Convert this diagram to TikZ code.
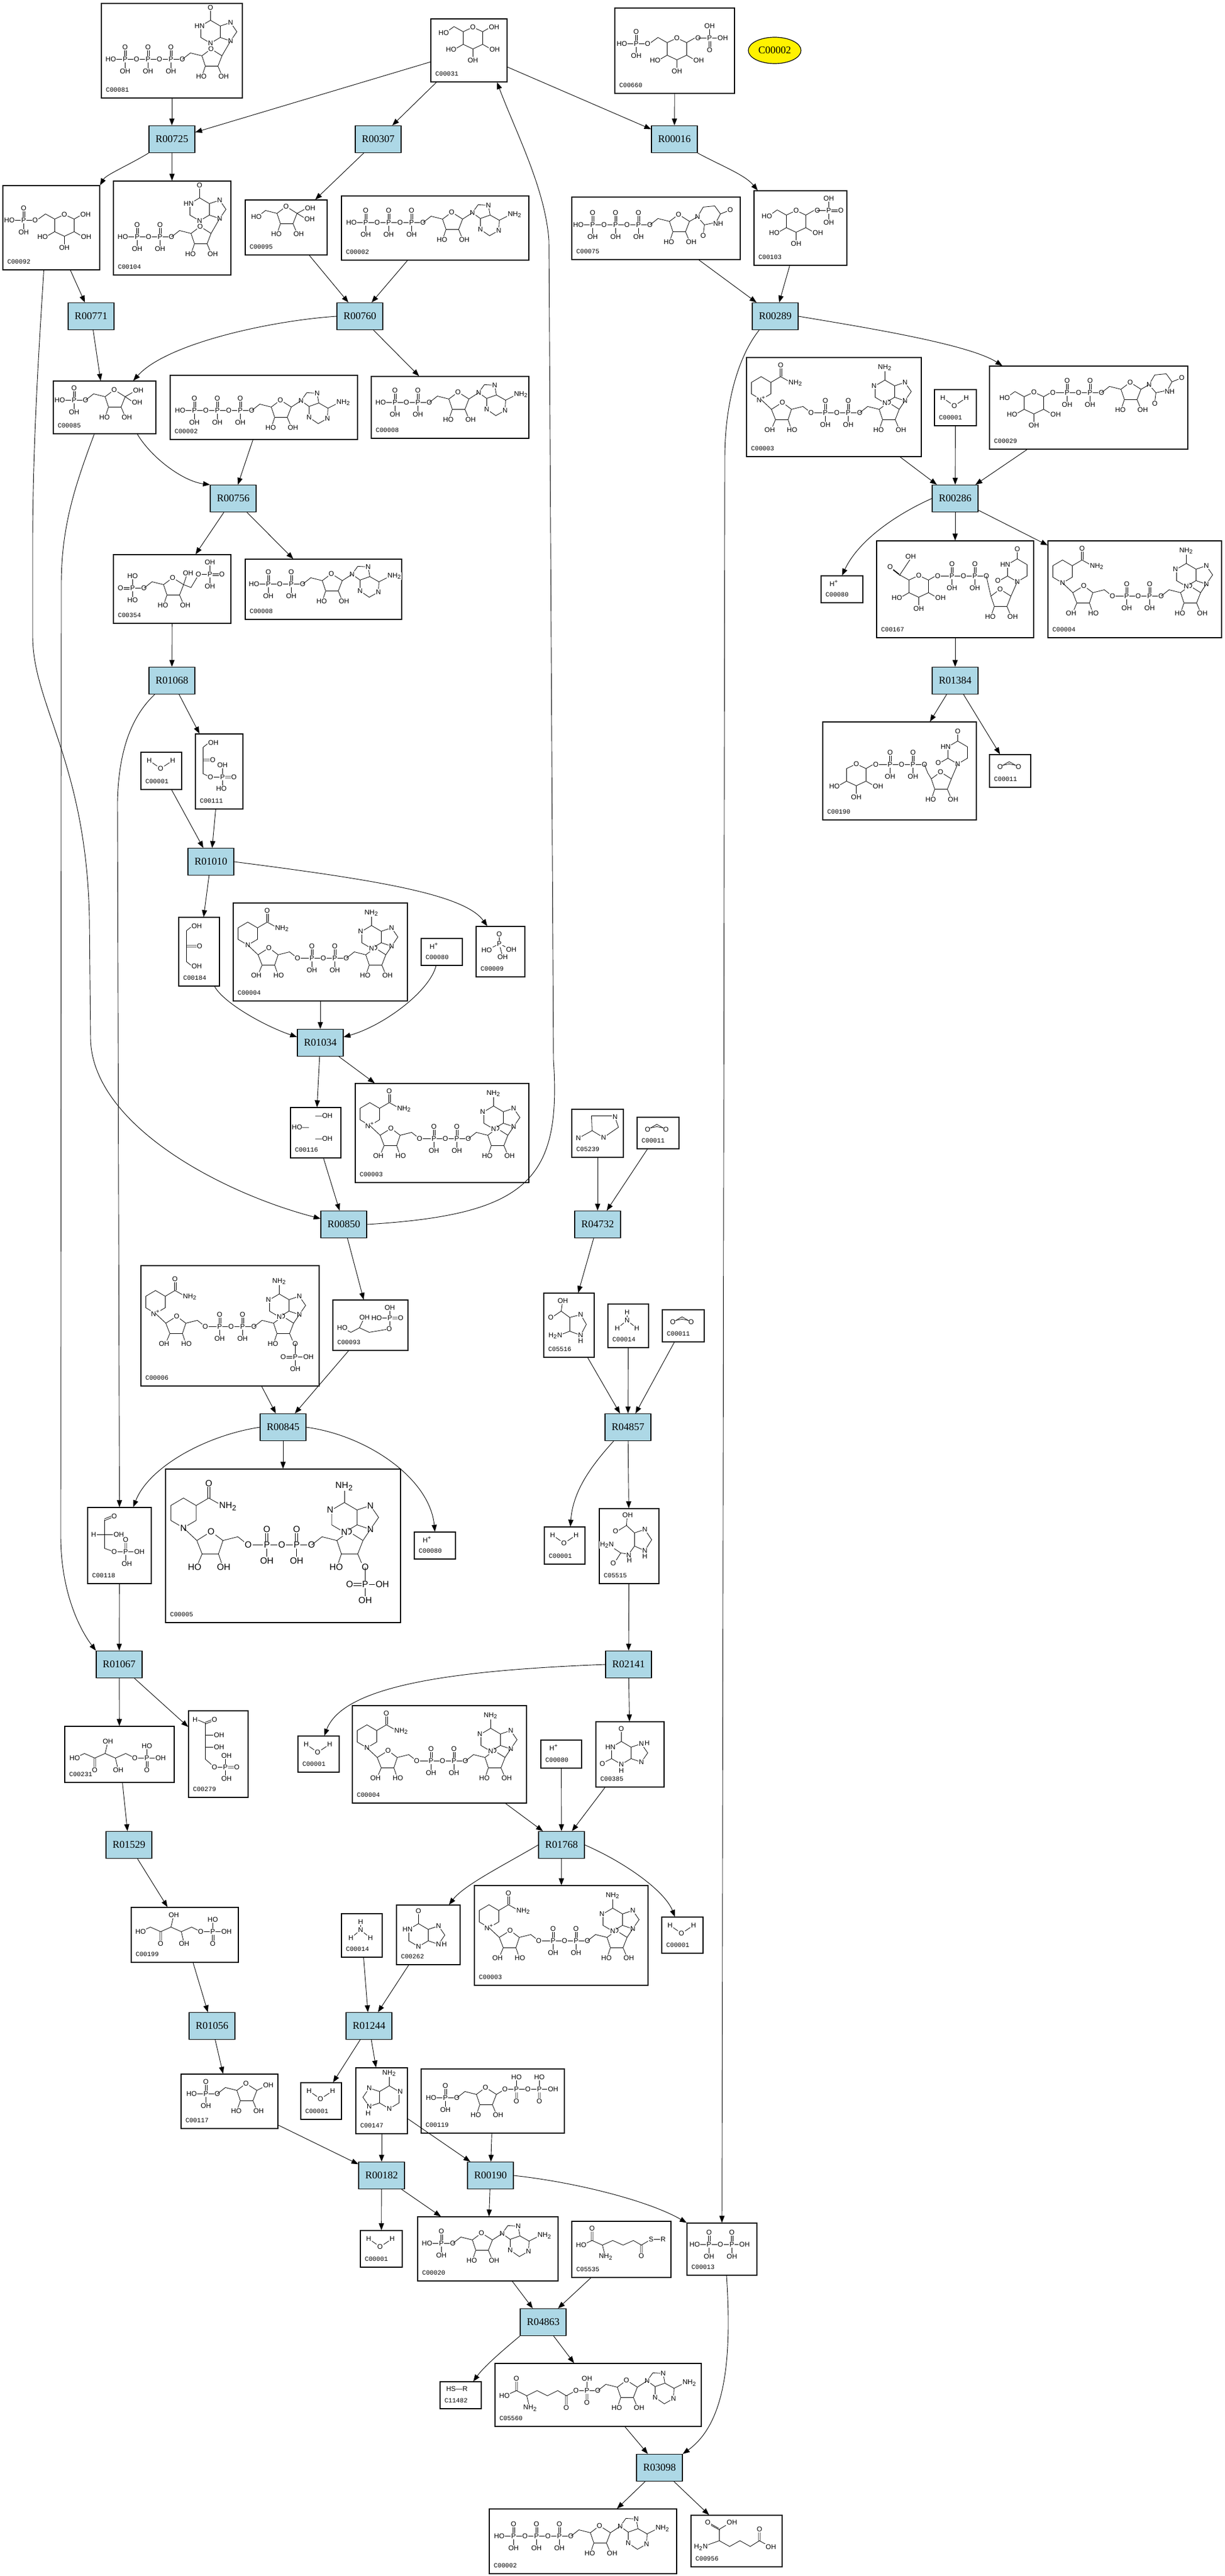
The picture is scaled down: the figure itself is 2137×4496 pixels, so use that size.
\documentclass[tikz,border=0pt]{standalone}
\usepackage{fontspec}
\newfontfamily\rxnfont{Liberation Serif}
\newfontfamily\cpdfont{Liberation Mono}
\newfontfamily\atomfont{Liberation Sans}
\usetikzlibrary{arrows.meta, calc, positioning, shapes.geometric}
\definecolor{rxnblue}{RGB}{173,216,230}

\tikzset{
  rxn/.style={draw, fill=rxnblue, line width=0.6pt, minimum width=40pt, minimum height=23.5pt, inner sep=0pt, font=\rxnfont\fontsize{9}{9}\selectfont},
  cpdbox/.style={draw, line width=0.6pt, inner sep=0pt},
  cpdlabel/.style={inner sep=0pt, font=\cpdfont\fontsize{5.6}{6}\selectfont},
  atom/.style={fill=white, inner sep=0.5pt, font=\atomfont\fontsize{6}{6}\selectfont},
  bond/.style={line width=0.4pt},
  edge/.style={line width=0.45pt, -{Triangle[length=6pt,width=4.5pt]}},
}

\newcounter{atm}
\newcommand{\ifnonempty}[2]{\if\relax\detokenize{#1}\relax\else#2\fi}
\newcommand{\atm}[2]{\stepcounter{atm}\node[atom] (atm-\theatm) at (#1) {#2};}
\newcommand{\cpd}[6]{%
  \node[cpdbox, minimum width={(#4-#2)*0.5pt}, minimum height={(#5-#3)*0.5pt}] (#1) at ({(#2+#4)/2},{(#3+#5)/2}) {};
  \node[cpdlabel, anchor=base west] (#1-id) at ([shift={(8,-11)}]#1.south west) {#6};}
\newcommand{\water}[1]{%
  \node[atom] (#1-h1) at ([shift={(15,15)}]#1.north west) {H};
  \node[atom] (#1-o) at ([shift={(35,29)}]#1.north west) {O};
  \node[atom] (#1-h2) at ([shift={(56,15)}]#1.north west) {H};
  \draw[bond] (#1-h1) -- (#1-o) -- (#1-h2);}
\newcommand{\proton}[1]{%
  \node[atom, anchor=west] (#1-h) at ([shift={(14,14)}]#1.north west) {H\textsuperscript{+}};}
\newcommand{\carbdiox}[1]{%
  \node[atom] (#1-o1) at ([shift={(19,22)}]#1.north west) {O};
  \node[atom] (#1-o2) at ([shift={(51,22)}]#1.north west) {O};
  \coordinate (#1-c) at ([shift={(35,13)}]#1.north west);
  \draw[bond] (#1-o1) -- (#1-c) -- (#1-o2);
  \draw[bond] ([shift={(4,3)}]#1-o1.north) -- ([shift={(0,4)}]#1-c) -- ([shift={(-4,3)}]#1-o2.north);}
\newcommand{\ammonia}[1]{%
  \node[atom] (#1-h1) at ([shift={(34,15)}]#1.north west) {H};
  \node[atom] (#1-n) at ([shift={(34,29)}]#1.north west) {N};
  \node[atom] (#1-h2) at ([shift={(17,43)}]#1.north west) {H};
  \node[atom] (#1-h3) at ([shift={(51,43)}]#1.north west) {H};
  \draw[bond] (#1-h1) -- (#1-n) (#1-h2) -- (#1-n) -- (#1-h3);}

\newcommand{\pchain}[4]{%
  \draw[bond] ({#1},{#2}) -- ({#1+45+40*(#3-1)},{#2});
  \foreach \i in {1,...,#3}{
    \draw[bond] ({#1+25+40*(\i-1)},{#2}) -- ({#1+25+40*(\i-1)},{#2+20});
    \draw[bond] ({#1+23.5+40*(\i-1)},{#2}) -- ({#1+23.5+40*(\i-1)},{#2-20});
    \draw[bond] ({#1+26.5+40*(\i-1)},{#2}) -- ({#1+26.5+40*(\i-1)},{#2-20});}
  \atm{{#1},{#2}}{#4}
  \foreach \i in {1,...,#3}{
    \atm{{#1+25+40*(\i-1)},{#2}}{P}
    \atm{{#1+45+40*(\i-1)},{#2}}{O}
    \atm{{#1+25+40*(\i-1)},{#2-21}}{O}
    \atm{{#1+25+40*(\i-1)},{#2+21}}{OH}}}
\newcommand{\rlink}[3]{%
  \draw[bond] ({#1},{#2}) -- ({#1-20},{#2-5}) -- ({#1-34},{#2+6});
  \ifnonempty{#3}{\atm{{#1-36},{#2+6}}{#3}}}
\newcommand{\ribose}[3]{%
  \draw[bond] ({#1},{#2}) -- ({#1+16},{#2-12}) -- ({#1+35},{#2}) -- ({#1+28},{#2+18}) -- ({#1+6},{#2+18}) -- cycle;
  \draw[bond] ({#1+6},{#2+18}) -- ({#1+2},{#2+30}) ({#1+28},{#2+18}) -- ({#1+33},{#2+30});
  \atm{{#1+16},{#2-12}}{O} \atm{{#1-1},{#2+36}}{HO} \atm{{#1+38},{#2+36}}{#3}}
\newcommand{\adenine}[2]{%
  \draw[bond] ({#1},{#2}) -- ({#1+10},{#2-14}) -- ({#1+28},{#2-13}) -- ({#1+31},{#2+4}) -- ({#1+14},{#2+10}) -- cycle;
  \draw[bond] ({#1+31},{#2+4}) -- ({#1+47},{#2+13}) -- ({#1+46},{#2+31}) -- ({#1+30},{#2+40}) -- ({#1+14},{#2+29}) -- ({#1+14},{#2+10});
  \draw[bond] ({#1+47},{#2+13}) -- ({#1+63},{#2+5});
  \atm{{#1},{#2}}{N} \atm{{#1+28},{#2-13}}{N} \atm{{#1+46},{#2+31}}{N} \atm{{#1+14},{#2+29}}{N}
  \atm{{#1+74},{#2+3}}{NH\textsubscript{2}}}
\newcommand{\purineup}[4]{%
  \draw[bond] ({#1},{#2}) -- ({#1},{#2-20}) -- ({#1-17},{#2-30}) -- ({#1-34},{#2-20}) -- ({#1-34},{#2}) -- ({#1-17},{#2+10}) -- cycle;
  \draw[bond] ({#1},{#2}) -- ({#1+18},{#2+6}) -- ({#1+29},{#2-10}) -- ({#1+18},{#2-26}) -- ({#1},{#2-20});
  \draw[bond] ({#1-17},{#2-30}) -- ({#1-17},{#2-46});
  \atm{{#1-17},{#2+10}}{N} \atm{{#1+18},{#2+6}}{N} \atm{{#1+18},{#2-26}}{N}
  \atm{{#1-36},{#2-20}}{#4} \atm{{#1-17},{#2-52}}{#3}}
\newcommand{\hexose}[5]{%
  \draw[bond] ({#1},{#2}) -- ({#1+17},{#2-8}) -- ({#1+34},{#2}) -- ({#1+34},{#2+22}) -- ({#1+17},{#2+30}) -- ({#1},{#2+22}) -- cycle;
  \draw[bond] ({#1+34},{#2}) -- ({#1+48},{#2-8}) ({#1+34},{#2+22}) -- ({#1+48},{#2+30}) ({#1+17},{#2+30}) -- ({#1+17},{#2+44}) ({#1},{#2+22}) -- ({#1-14},{#2+30});
  \ifnum#5>0 \draw[bond] ({#1},{#2}) -- ({#1-16},{#2-9}); \fi
  \ifnum#5>1 \draw[bond] ({#1-16},{#2-9}) -- ({#1-30},{#2+1}); \fi
  \atm{{#1+17},{#2-8}}{O}
  \atm{{#1+55},{#2+31}}{OH} \atm{{#1+17},{#2+50}}{OH} \atm{{#1-21},{#2+31}}{HO}
  \ifnonempty{#3}{\atm{{#1+54},{#2-8}}{#3}}
  \ifnonempty{#4}{\atm{{#1-34},{#2+2}}{#4}}}
\newcommand{\uracil}[2]{%
  \draw[bond] ({#1},{#2}) -- ({#1+10},{#2-17}) -- ({#1+30},{#2-19}) -- ({#1+40},{#2-5}) -- ({#1+32},{#2+10}) -- ({#1+12},{#2+14}) -- cycle;
  \draw[bond] ({#1+40},{#2-5}) -- ({#1+55},{#2-11}) ({#1+12},{#2+14}) -- ({#1+10},{#2+30});
  \atm{{#1},{#2}}{N} \atm{{#1+36},{#2+12}}{NH} \atm{{#1+57},{#2-12}}{O} \atm{{#1+10},{#2+33}}{O}}
\newcommand{\uracilup}[2]{%
  \draw[bond] ({#1},{#2}) -- ({#1-17},{#2-10}) -- ({#1-17},{#2-30}) -- ({#1},{#2-40}) -- ({#1+17},{#2-30}) -- ({#1+17},{#2-10}) -- cycle;
  \draw[bond] ({#1},{#2-40}) -- ({#1},{#2-54}) ({#1-17},{#2-10}) -- ({#1-31},{#2-2});
  \atm{{#1},{#2}}{N} \atm{{#1-21},{#2-30}}{HN} \atm{{#1},{#2-57}}{O} \atm{{#1-34},{#2-2}}{O}}
\newcommand{\nicring}[3]{%
  \draw[bond] ({#1},{#2}) -- ({#1+17},{#2-10}) -- ({#1+17},{#2-30}) -- ({#1},{#2-40}) -- ({#1-17},{#2-30}) -- ({#1-17},{#2-10}) -- cycle;
  \draw[bond] ({#1+17},{#2-30}) -- ({#1+34},{#2-40}) -- ({#1+52},{#2-30});
  \draw[bond] ({#1+32.5},{#2-40}) -- ({#1+32.5},{#2-56}) ({#1+35.5},{#2-40}) -- ({#1+35.5},{#2-56});
  \atm{{#1},{#2}}{#3} \atm{{#1+34},{#2-60}}{O} \atm{{#1+60},{#2-29}}{NH\textsubscript{2}}}
\newcommand{\ntp}[3]{%
  \pchain{#1}{#2}{#3}{HO}
  \pgfmathsetmacro\ribx{#1+79+40*(#3-1)}\pgfmathsetmacro\riby{#2-6}
  \rlink{\ribx}{\riby}{} \ribose{\ribx}{\riby}{OH}
  \adenine{\ribx+52}{\riby-11}
  \draw[bond] ({\ribx+35},{\riby}) -- ({\ribx+52},{\riby-11});}
\newcommand{\ntpi}[3]{%
  \pchain{#1}{#2}{#3}{HO}
  \pgfmathsetmacro\ribx{#1+79+40*(#3-1)}\pgfmathsetmacro\riby{#2-6}
  \rlink{\ribx}{\riby}{} \ribose{\ribx}{\riby}{OH}
  \purineup{\ribx+32}{\riby-32}{O}{HN}
  \draw[bond] ({\ribx+35},{\riby}) -- ({\ribx+50},{\riby-26});}
\newcommand{\ntpu}[3]{%
  \pchain{#1}{#2}{#3}{HO}
  \pgfmathsetmacro\ribx{#1+79+40*(#3-1)}\pgfmathsetmacro\riby{#2-6}
  \rlink{\ribx}{\riby}{} \ribose{\ribx}{\riby}{OH}
  \uracil{\ribx+49}{\riby-8}
  \draw[bond] ({\ribx+35},{\riby}) -- ({\ribx+49},{\riby-8});}
\newcommand{\nad}[2]{%
  \nicring{26}{74}{#1}
  \begin{scope}[shift={(79,91)}, xscale=-1] \rlink{0}{0}{} \ribose{0}{0}{OH} \end{scope}
  \draw[bond] (44,91) -- (26,74);
  \pchain{113}{97}{2}{O}
  \rlink{232}{91}{} \ribose{232}{91}{#2}
  \purineup{259}{70}{NH\textsubscript{2}}{N}
  \draw[bond] (267,91) -- (277,76);}
\newcommand{\nadp}[1]{%
  \nad{#1}{O}
  \draw[bond] (270,127) -- (270,170) (270,150) -- (292,150) (250,148.5) -- (270,148.5) (250,151.5) -- (270,151.5);
  \atm{270,150}{P} \atm{249,150}{O} \atm{293,150}{OH} \atm{270,171}{OH}}
\newcommand{\ketopentp}[2]{%
  \draw[bond] ({#1},{#2}) -- ({#1+17},{#2-8}) -- ({#1+35},{#2}) -- ({#1+53},{#2-8}) -- ({#1+71},{#2}) -- ({#1+89},{#2-8}) -- ({#1+105},{#2}) -- ({#1+150},{#2});
  \draw[bond] ({#1+33.5},{#2}) -- ({#1+33.5},{#2+18}) ({#1+36.5},{#2}) -- ({#1+36.5},{#2+18}) ({#1+53},{#2-8}) -- ({#1+57},{#2-25}) ({#1+71},{#2}) -- ({#1+75},{#2+17});
  \draw[bond] ({#1+126},{#2}) -- ({#1+126},{#2-18}) ({#1+124.5},{#2}) -- ({#1+124.5},{#2+18}) ({#1+127.5},{#2}) -- ({#1+127.5},{#2+18});
  \atm{{#1},{#2}}{HO} \atm{{#1+35},{#2+21}}{O} \atm{{#1+58},{#2-29}}{OH} \atm{{#1+76},{#2+21}}{OH}
  \atm{{#1+105},{#2}}{O} \atm{{#1+126},{#2}}{P} \atm{{#1+150},{#2}}{OH} \atm{{#1+126},{#2-21}}{HO} \atm{{#1+126},{#2+21}}{O}}

\begin{document}
\begin{tikzpicture}[x=0.5pt, y=-0.5pt]
\useasboundingbox (0,0) rectangle (2137,4496);
\fill[white] (0,0) rectangle (2137,4496);

\cpd{c81}{177}{6}{423}{171}{C00081}
\cpd{c31}{752}{33}{885}{143}{C00031}
\cpd{c660}{1073}{14}{1282}{163}{C00660}
\node[ellipse, draw, fill=yellow, line width=0.6pt, minimum width=46pt, minimum height=23pt, inner sep=0pt, font=\rxnfont\fontsize{9}{9}\selectfont] (c2top) at (1352,88) {C00002};

\cpd{c92}{5}{324}{174}{471}{C00092}
\cpd{c104}{198}{316}{403}{480}{C00104}
\cpd{c95}{428}{349}{571}{445}{C00095}
\cpd{c2a}{596}{342}{923}{454}{C00002}
\cpd{c75}{998}{344}{1292}{453}{C00075}
\cpd{c103}{1316}{333}{1478}{463}{C00103}

\cpd{c85}{93}{665}{272}{757}{C00085}
\cpd{c2b}{297}{655}{624}{767}{C00002}
\cpd{c8a}{648}{657}{923}{765}{C00008}
\cpd{c3a}{1303}{624}{1608}{797}{C00003}
\cpd{c1a}{1631}{680}{1704}{743}{C00001}
\cpd{c29}{1727}{639}{2073}{784}{C00029}

\cpd{c354}{198}{968}{403}{1088}{C00354}
\cpd{c8b}{428}{976}{701}{1081}{C00008}
\cpd{c80b}{1433}{1005}{1506}{1052}{C00080}
\cpd{c167}{1530}{944}{1804}{1113}{C00167}
\cpd{c4b}{1829}{944}{2132}{1113}{C00004}

\cpd{c1b}{246}{1313}{317}{1378}{C00001}
\cpd{c111}{341}{1281}{424}{1412}{C00111}
\cpd{c190}{1436}{1260}{1704}{1431}{C00190}
\cpd{c11a}{1727}{1317}{1799}{1374}{C00011}

\cpd{c184}{312}{1601}{383}{1721}{C00184}
\cpd{c4a}{407}{1576}{711}{1747}{C00004}
\cpd{c80a}{735}{1638}{807}{1685}{C00080}
\cpd{c9}{831}{1617}{916}{1705}{C00009}

\cpd{c116}{507}{1933}{595}{2021}{C00116}
\cpd{c3b}{620}{1891}{923}{2064}{C00003}
\cpd{c5239}{998}{1936}{1088}{2020}{C05239}
\cpd{c11b}{1112}{1950}{1185}{2005}{C00011}

\cpd{c6}{246}{2209}{557}{2419}{C00006}
\cpd{c93}{581}{2269}{712}{2357}{C00093}
\cpd{c5516}{949}{2257}{1037}{2369}{C05516}
\cpd{c14a}{1061}{2276}{1132}{2352}{C00014}
\cpd{c11c}{1156}{2286}{1229}{2342}{C00011}

\cpd{c118}{153}{2631}{264}{2764}{C00118}
\cpd{c5}{289}{2564}{699}{2832}{C00005}
\cpd{c80c}{723}{2674}{795}{2721}{C00080}
\cpd{c1c}{950}{2665}{1021}{2730}{C00001}
\cpd{c5515}{1046}{2633}{1150}{2764}{C05515}

\cpd{c231}{113}{3013}{304}{3111}{C00231}
\cpd{c279}{329}{2986}{433}{3137}{C00279}
\cpd{c1d}{520}{3030}{592}{3093}{C00001}
\cpd{c4c}{615}{2977}{919}{3147}{C00004}
\cpd{c80d}{944}{3037}{1015}{3086}{C00080}
\cpd{c385}{1040}{3005}{1159}{3119}{C00385}

\cpd{c199}{229}{3329}{416}{3425}{C00199}
\cpd{c14b}{596}{3340}{667}{3416}{C00014}
\cpd{c262}{692}{3325}{803}{3429}{C00262}
\cpd{c3c}{828}{3291}{1131}{3465}{C00003}
\cpd{c1e}{1155}{3346}{1227}{3409}{C00001}

\cpd{c117}{316}{3620}{485}{3715}{C00117}
\cpd{c1f}{525}{3635}{596}{3699}{C00001}
\cpd{c147}{621}{3609}{711}{3724}{C00147}
\cpd{c119}{735}{3611}{985}{3723}{C00119}

\cpd{c1g}{629}{3893}{702}{3957}{C00001}
\cpd{c20}{729}{3869}{974}{3981}{C00020}
\cpd{c5535}{998}{3877}{1171}{3975}{C05535}
\cpd{c13b}{1199}{3880}{1321}{3971}{C00013}

\cpd{c11482}{768}{4157}{840}{4204}{C11482}
\cpd{c5560}{864}{4125}{1224}{4235}{C05560}
\cpd{c2c}{854}{4379}{1181}{4492}{C00002}
\cpd{c956}{1206}{4390}{1365}{4480}{C00956}

\water{c1a} \water{c1b} \water{c1c} \water{c1d} \water{c1e} \water{c1f} \water{c1g}
\proton{c80a} \proton{c80b} \proton{c80c} \proton{c80d}
\carbdiox{c11a} \carbdiox{c11b} \carbdiox{c11c}
\ammonia{c14a} \ammonia{c14b}
\node[atom, anchor=west] (c11482-t) at ([shift={(10,13)}]c11482.north west) {HS—R};
\node[atom] (c116-t1) at ([shift={(59,15)}]c116.north west) {—OH};
\node[atom] (c116-t2) at ([shift={(18,35)}]c116.north west) {HO—};
\node[atom] (c116-t3) at ([shift={(59,55)}]c116.north west) {—OH};
\node[atom] (c9-o) at ([shift={(41,14)}]c9.north west) {O};
\node[atom] (c9-p) at ([shift={(41,31)}]c9.north west) {P};
\node[atom] (c9-ho) at ([shift={(19,42)}]c9.north west) {HO};
\node[atom] (c9-oh1) at ([shift={(62,41)}]c9.north west) {OH};
\node[atom] (c9-oh2) at ([shift={(47,54)}]c9.north west) {OH};
\draw[bond] (c9-o) -- (c9-p) (c9-ho) -- (c9-p) -- (c9-oh1) (c9-p) -- (c9-oh2);

\begin{scope}[shift={(c81.north west)}] \ntpi{17}{98}{3} \end{scope}
\begin{scope}[shift={(c31.north west)}] \hexose{57}{23}{OH}{HO}{2} \end{scope}
\begin{scope}[shift={(c660.north west)}]
  \hexose{92}{61}{O}{O}{2} \pchain{13}{63}{1}{HO}
  \draw[bond] (146,53) -- (188,53) (166,53) -- (166,33) (164.5,53) -- (164.5,73) (167.5,53) -- (167.5,73);
  \atm{166,53}{P} \atm{189,53}{OH} \atm{166,32}{OH} \atm{166,74}{O}
\end{scope}
\begin{scope}[shift={(c92.north west)}] \hexose{91}{59}{OH}{O}{2} \pchain{12}{61}{1}{HO} \end{scope}
\begin{scope}[shift={(c104.north west)}] \ntpi{17}{98}{2} \end{scope}
\begin{scope}[shift={(c95.north west)}]
  \rlink{56}{24}{HO} \ribose{56}{24}{OH}
  \draw[bond] (91,24) -- (106,16) (91,24) -- (104,32);
  \atm{114,15}{OH} \atm{113,34}{OH}
\end{scope}
\begin{scope}[shift={(c2a.north west)}] \ntp{18}{47}{3} \end{scope}
\begin{scope}[shift={(c75.north west)}] \ntpu{12}{49}{3} \end{scope}
\begin{scope}[shift={(c103.north west)}]
  \hexose{57}{43}{O}{HO}{2}
  \draw[bond] (111,35) -- (131,35) (131,15) -- (131,55) (131,33.5) -- (151,33.5) (131,36.5) -- (151,36.5);
  \atm{131,35}{P} \atm{152,35}{O} \atm{131,14}{OH} \atm{131,56}{OH}
\end{scope}
\begin{scope}[shift={(c85.north west)}]
  \pchain{12}{34}{1}{HO} \rlink{91}{28}{} \ribose{91}{28}{OH}
  \draw[bond] (126,28) -- (140,20) (126,28) -- (138,36);
  \atm{149,17}{OH} \atm{147,38}{OH}
\end{scope}
\begin{scope}[shift={(c2b.north west)}] \ntp{18}{62}{3} \end{scope}
\begin{scope}[shift={(c8a.north west)}] \ntp{17}{46}{2} \end{scope}
\begin{scope}[shift={(c3a.north west)}] \nad{N\textsuperscript{+}}{OH} \end{scope}
\begin{scope}[shift={(c29.north west)}]
  \hexose{61}{54}{}{HO}{2} \pchain{111}{47}{2}{O}
  \rlink{230}{41}{} \ribose{230}{41}{OH} \uracil{279}{33}
  \draw[bond] (265,41) -- (279,33);
\end{scope}
\begin{scope}[shift={(c354.north west)}]
  \draw[bond] (14,57.5) -- (34,57.5) (14,60.5) -- (34,60.5) (34,59) -- (54,59) (34,39) -- (34,79);
  \atm{34,59}{P} \atm{13,59}{O} \atm{54,59}{O} \atm{34,38}{HO} \atm{34,80}{HO}
  \rlink{88}{53}{} \ribose{88}{53}{OH}
  \draw[bond] (123,53) -- (128,38) (123,53) -- (136,58) -- (149,36);
  \draw[bond] (149,35) -- (169,35) (169,15) -- (169,55) (169,33.5) -- (189,33.5) (169,36.5) -- (189,36.5);
  \atm{131,33}{OH} \atm{149,35}{O} \atm{169,35}{P} \atm{190,35}{O} \atm{169,14}{OH} \atm{169,56}{OH}
\end{scope}
\begin{scope}[shift={(c8b.north west)}] \ntp{16}{44}{2} \end{scope}
\begin{scope}[shift={(c167.north west)}]
  \hexose{57}{69}{}{}{1}
  \draw[bond] (41,60) -- (59,33) (40,58.5) -- (26,47.5) (42,61.5) -- (28,50.5);
  \atm{60,28}{OH} \atm{24,46}{O}
  \pchain{107}{62}{2}{O}
  \draw[bond] (192,62) -- (196,80) -- (200,97);
  \ribose{200}{97}{OH} \uracilup{246}{72}
  \draw[bond] (235,97) -- (246,72);
\end{scope}
\begin{scope}[shift={(c4b.north west)}] \nad{N}{OH} \end{scope}
\begin{scope}[shift={(c111.north west)}]
  \draw[bond] (24,16) -- (14,24) -- (14,70) -- (27,76) -- (48,76) (48,55) -- (48,95) (48,74.5) -- (67,74.5) (48,77.5) -- (67,77.5) (14,44.5) -- (28,44.5) (14,47.5) -- (28,47.5);
  \atm{32,16}{OH} \atm{31,46}{O} \atm{27,76}{O} \atm{48,76}{P} \atm{68,76}{O} \atm{48,55}{OH} \atm{46,96}{HO}
\end{scope}
\begin{scope}[shift={(c190.north west)}]
  \hexose{42}{82}{}{}{0} \pchain{93}{75}{2}{O}
  \draw[bond] (178,75) -- (184,90) -- (190,100);
  \ribose{190}{100}{OH} \uracilup{236}{74}
  \draw[bond] (225,100) -- (236,74);
\end{scope}
\begin{scope}[shift={(c184.north west)}]
  \draw[bond] (24,16) -- (14,24) -- (14,78) -- (24,86) (14,49.5) -- (32,49.5) (14,52.5) -- (32,52.5);
  \atm{32,16}{OH} \atm{37,51}{O} \atm{32,86}{OH}
\end{scope}
\begin{scope}[shift={(c4a.north west)}] \nad{N}{OH} \end{scope}
\begin{scope}[shift={(c3b.north west)}] \nad{N\textsuperscript{+}}{OH} \end{scope}
\begin{scope}[shift={(c5239.north west)}]
  \draw[bond] (35,12) -- (75,12) -- (82,32) -- (56,50) -- (36,38) -- cycle (36,38) -- (14,50);
  \atm{76,14}{N} \atm{56,50}{N} \atm{12,51}{N}
\end{scope}
\begin{scope}[shift={(c6.north west)}] \begin{scope}[shift={(0,10)}] \nadp{N\textsuperscript{+}} \end{scope} \end{scope}
\begin{scope}[shift={(c93.north west)}]
  \draw[bond] (17,49) -- (32,57) -- (47,49) -- (64,57) -- (99,51) (47,49) -- (55,32) (100,51) -- (100,14) (77,32) -- (100,32) (100,30.5) -- (118,30.5) (100,33.5) -- (118,33.5);
  \atm{17,49}{HO} \atm{56,31}{OH} \atm{99,51}{O} \atm{100,32}{P} \atm{77,32}{HO} \atm{119,32}{O} \atm{100,14}{OH}
\end{scope}
\begin{scope}[shift={(c5516.north west)}]
  \draw[bond] (46,43) -- (65,38) -- (75,55) -- (65,74) -- (46,67) -- cycle (46,43) -- (31,32) -- (33,18) (31,32) -- (16,42) (46,67) -- (28,74);
  \atm{34,14}{OH} \atm{13,43}{O} \atm{65,38}{N} \atm{65,74}{N} \atm{65,84}{H} \atm{21,75}{H\textsubscript{2}N}
\end{scope}
\begin{scope}[shift={(c118.north west)}]
  \draw[bond] (30,22) -- (30,72) -- (47,78) -- (91,78) (67,78) -- (67,98) (65.5,78) -- (65.5,58) (68.5,78) -- (68.5,58) (14,48) -- (50,48) (30,20.5) -- (45,14.5) (30,23.5) -- (45,17.5);
  \atm{47,16}{O} \atm{11,48}{H} \atm{55,48}{OH} \atm{47,78}{O} \atm{67,78}{P} \atm{91,78}{OH} \atm{67,57}{O} \atm{69,99}{OH}
\end{scope}
\begin{scope}[shift={(c5.north west)}] \begin{scope}[shift={(-2,7)}, scale=1.3, transform shape] \nadp{N} \end{scope} \end{scope}
\begin{scope}[shift={(c5515.north west)}]
  \draw[bond] (62,43) -- (80,37) -- (92,55) -- (80,74) -- (62,66) -- cycle (62,43) -- (48,30) -- (49,16) (48,30) -- (32,40) (62,66) -- (52,80) -- (38,78) -- (20,66) (38,78) -- (28,94);
  \atm{50,12}{OH} \atm{29,40}{O} \atm{80,37}{N} \atm{80,74}{N} \atm{80,84}{H} \atm{52,82}{N} \atm{53,91}{H} \atm{14,64}{H\textsubscript{2}N} \atm{25,96}{O}
\end{scope}
\begin{scope}[shift={(c231.north west)}] \ketopentp{18}{56} \end{scope}
\begin{scope}[shift={(c279.north west)}]
  \draw[bond] (16,16) -- (30,22) -- (30,85) -- (46,99) -- (65,99) (30,20.5) -- (45,14.5) (30,23.5) -- (45,17.5) (30,43) -- (46,43) (30,64) -- (46,64) (65,79) -- (65,119) (65,97.5) -- (84,97.5) (65,100.5) -- (84,100.5);
  \atm{12,16}{H} \atm{46,16}{O} \atm{54,43}{OH} \atm{54,64}{OH} \atm{46,99}{O} \atm{65,99}{P} \atm{85,99}{O} \atm{67,79}{OH} \atm{67,119}{OH}
\end{scope}
\begin{scope}[shift={(c4c.north west)}] \nad{N}{OH} \end{scope}
\begin{scope}[shift={(c385.north west)}]
  \purineup{62}{65}{O}{HN}
  \draw[bond] (28,65) -- (14,72);
  \atm{12,74}{O} \atm{45,86}{H} \atm{90,38}{H}
\end{scope}
\begin{scope}[shift={(c199.north west)}] \ketopentp{17}{43} \end{scope}
\begin{scope}[shift={(c262.north west)}] \purineup{56}{63}{O}{HN} \atm{84,69}{H} \end{scope}
\begin{scope}[shift={(c3c.north west)}] \nad{N\textsuperscript{+}}{OH} \end{scope}
\begin{scope}[shift={(c117.north west)}]
  \pchain{19}{35}{1}{HO} \rlink{98}{29}{} \ribose{98}{29}{OH}
  \draw[bond] (133,29) -- (147,22);
  \atm{153,20}{OH}
\end{scope}
\begin{scope}[shift={(c147.north west)}]
  \begin{scope}[shift={(42,62)}, xscale=-1] \purineup{0}{0}{NH\textsubscript{2}}{N} \end{scope}
  \atm{22,80}{H}
\end{scope}
\begin{scope}[shift={(c119.north west)}]
  \pchain{18}{51}{1}{HO} \rlink{97}{45}{} \ribose{97}{45}{OH}
  \draw[bond] (132,45) -- (147,36) -- (230,36) (167,16) -- (167,36) (207,16) -- (207,36) (165.5,36) -- (165.5,56) (168.5,36) -- (168.5,56) (205.5,36) -- (205.5,56) (208.5,36) -- (208.5,56);
  \atm{147,36}{O} \atm{167,36}{P} \atm{187,36}{O} \atm{207,36}{P} \atm{231,36}{OH} \atm{167,15}{HO} \atm{207,15}{HO} \atm{167,57}{O} \atm{207,57}{O}
\end{scope}
\begin{scope}[shift={(c20.north west)}] \ntp{17}{47}{1} \end{scope}
\begin{scope}[shift={(c5535.north west)}]
  \draw[bond] (18,42) -- (36,34) -- (54,42) -- (72,34) -- (90,42) -- (108,34) -- (122,42) -- (139,32) -- (160,32) (34.5,34) -- (34.5,16) (37.5,34) -- (37.5,16) (54,42) -- (58,58) (120.5,42) -- (120.5,58) (123.5,42) -- (123.5,58);
  \atm{17,42}{HO} \atm{36,13}{O} \atm{60,62}{NH\textsubscript{2}} \atm{122,61}{O} \atm{139,32}{S} \atm{160,32}{R}
\end{scope}
\begin{scope}[shift={(c13b.north west)}] \pchain{14}{38}{2}{HO} \atm{101,38}{OH} \end{scope}
\begin{scope}[shift={(c5560.north west)}]
  \draw[bond] (18,57) -- (38,48) -- (56,57) -- (74,48) -- (92,57) -- (110,48) -- (125,57) -- (142,48) -- (180,48) (36.5,48) -- (36.5,30) (39.5,48) -- (39.5,30) (56,57) -- (60,74) (123.5,57) -- (123.5,75) (126.5,57) -- (126.5,75) (161,48) -- (161,29) (159.5,48) -- (159.5,67) (162.5,48) -- (162.5,67);
  \atm{17,57}{HO} \atm{38,27}{O} \atm{62,78}{NH\textsubscript{2}} \atm{125,78}{O} \atm{142,48}{O} \atm{161,48}{P} \atm{161,27}{OH} \atm{161,69}{O} \atm{180,48}{O}
  \rlink{214}{42}{} \ribose{214}{42}{OH} \adenine{266}{31}
  \draw[bond] (249,42) -- (266,31);
\end{scope}
\begin{scope}[shift={(c2c.north west)}] \ntp{18}{48}{3} \end{scope}
\begin{scope}[shift={(c956.north west)}]
  \draw[bond] (22,55) -- (50,45) -- (50,25) -- (70,13) (49,23.5) -- (30,12.5) (51,26.5) -- (31,15.5) (50,45) -- (68,55) -- (86,45) -- (104,55) -- (120,45) -- (138,55) (118.5,45) -- (118.5,27) (121.5,45) -- (121.5,27);
  \atm{18,56}{H\textsubscript{2}N} \atm{30,13}{O} \atm{72,13}{OH} \atm{120,25}{O} \atm{140,56}{OH}
\end{scope}

\node[rxn] (R00725) at (300,243) {R00725};
\node[rxn] (R00307) at (660,243) {R00307};
\node[rxn] (R00016) at (1177,243) {R00016};
\node[rxn] (R00771) at (159,552) {R00771};
\node[rxn] (R00760) at (628,552) {R00760};
\node[rxn] (R00289) at (1353,552) {R00289};
\node[rxn] (R00756) at (407,870) {R00756};
\node[rxn] (R00286) at (1667,870) {R00286};
\node[rxn] (R01068) at (300,1188) {R01068};
\node[rxn] (R01384) at (1667,1188) {R01384};
\node[rxn] (R01010) at (368,1504) {R01010};
\node[rxn] (R01034) at (559,1820) {R01034};
\node[rxn] (R00850) at (600,2137) {R00850};
\node[rxn] (R04732) at (1043,2137) {R04732};
\node[rxn] (R00845) at (494,2491) {R00845};
\node[rxn] (R04857) at (1096,2491) {R04857};
\node[rxn] (R01067) at (208,2905) {R01067};
\node[rxn] (R02141) at (1097,2905) {R02141};
\node[rxn] (R01529) at (225,3220) {R01529};
\node[rxn] (R01768) at (980,3220) {R01768};
\node[rxn] (R01056) at (370,3536) {R01056};
\node[rxn] (R01244) at (644,3536) {R01244};
\node[rxn] (R00182) at (666,3797) {R00182};
\node[rxn] (R00190) at (856,3797) {R00190};
\node[rxn] (R04863) at (948,4053) {R04863};
\node[rxn] (R03098) at (1151,4307) {R03098};

\draw[edge] (c81) -- (R00725);
\draw[edge] (c31) -- (R00725);
\draw[edge] (R00725.south west) .. controls (225,288) and (185,305) .. (c92.north east);
\draw[edge] (R00725) -- (c104);
\draw[edge] (c31) -- (R00307);
\draw[edge] (R00307) -- (c95);
\draw[edge] (c31) -- (R00016);
\draw[edge] (c660) -- (R00016);
\draw[edge] (R00016.south east) .. controls (1260,290) and (1300,305) .. ($(c103.north west)+(7,0)$);
\draw[edge] (c92) -- (R00771);
\draw[edge] (R00771) -- (c85);
\draw[edge] (c95) -- (R00760);
\draw[edge] (c2a) -- (R00760);
\draw[edge] (R00760.west) .. controls (470,560) and (290,600) .. ($(c85.north east)+(-40,0)$);
\draw[edge] (R00760) -- (c8a);
\draw[edge] (c75) -- (R00289);
\draw[edge] (c103) -- (R00289);
\draw[edge] (R00289.east) .. controls (1500,570) and (1690,600) .. ($(c29.north west)+(23,0)$);
\draw[edge] ($(R00289.south)+(-28,0)$) .. controls (1290,620) and (1265,700) .. (1265,800) -- (c13b.north);
\draw[edge] ($(c85.south east)+(-33,0)$) .. controls (265,800) and (320,840) .. (R00756.north west);
\draw[edge] (c2b) -- (R00756);
\draw[edge] (R00756) -- (c354);
\draw[edge] (R00756) -- (c8b);
\draw[edge] (c3a) -- (R00286);
\draw[edge] (c1a) -- (R00286);
\draw[edge] (c29) -- (R00286);
\draw[edge] (R00286.west) .. controls (1570,895) and (1500,940) .. (c80b.north);
\draw[edge] (R00286) -- (c167);
\draw[edge] (R00286) -- (c4b);
\draw[edge] (c167) -- (R01384);
\draw[edge] (R01384) -- (c190);
\draw[edge] (R01384) -- (c11a);
\draw[edge] (c354) -- (R01068);
\draw[edge] (R01068) -- (c111);
\draw[edge] ($(R01068.south)+(-30,0)$) .. controls (235,1245) and (207,1300) .. (205,1400) -- (c118.north);
\draw[edge] (c1b) -- (R01010);
\draw[edge] (c111) -- (R01010);
\draw[edge] (R01010) -- (c184);
\draw[edge] (R01010.east) .. controls (650,1535) and (810,1560) .. ($(c9.north)+(-23,0)$);
\draw[edge] ($(c184.south)+(27,0)$) .. controls (390,1750) and (460,1790) .. ($(R01034.west)+(0,-10)$);
\draw[edge] (c4a) -- (R01034);
\draw[edge] ($(c80a.south)+(-10,0)$) .. controls (750,1730) and (670,1790) .. ($(R01034.east)+(0,-10)$);
\draw[edge] (R01034) -- (c116);
\draw[edge] (R01034) -- (c3b);
\draw[edge] (c116) -- (R00850);
\draw[edge] ($(c92.south)+(-13,0)$) .. controls (65,650) and (57,800) .. (57,950) -- (57,1110) .. controls (57,1230) and (150,1330) .. (156,1600) -- (158,1812) .. controls (160,1960) and (380,2080) .. ($(R00850.west)+(0,-10)$);
\draw[edge] (R00850) -- (c93);
\draw[edge] (R00850.east) .. controls (920,2120) and (980,2060) .. (966,1850) -- (960,760) -- (958,420) .. controls (952,330) and (900,230) .. ($(c31.south)+(49,0)$);
\draw[edge] (c5239) -- (R04732);
\draw[edge] (c11b) -- (R04732);
\draw[edge] (R04732) -- (c5516);
\draw[edge] (c6) -- (R00845);
\draw[edge] (c93) -- (R00845);
\draw[edge] (R00845.west) .. controls (360,2505) and (260,2560) .. ($(c118.north)+(24,0)$);
\draw[edge] (R00845) -- (c5);
\draw[edge] (R00845.east) .. controls (640,2505) and (750,2580) .. (c80c.north);
\draw[edge] (c5516) -- (R04857);
\draw[edge] (c14a) -- (R04857);
\draw[edge] (c11c) -- (R04857);
\draw[edge] ($(R04857.south)+(-25,0)$) .. controls (1035,2555) and (1000,2600) .. ($(c1c.north)+(10,0)$);
\draw[edge] (R04857) -- (c5515);
\draw[edge] (c5515) -- (R02141);
\draw[edge] (R02141.west) .. controls (800,2915) and (600,2940) .. ($(c1d.north)+(10,0)$);
\draw[edge] (R02141) -- (c385);
\draw[edge] ($(c85.south)+(-18,0)$) .. controls (130,850) and (107,920) .. (107,1020) -- (106,2680) .. controls (106,2780) and (140,2845) .. (R01067.north west);
\draw[edge] (c118) -- (R01067);
\draw[edge] (R01067) -- (c231);
\draw[edge] (R01067) -- (c279);
\draw[edge] (c231) -- (R01529);
\draw[edge] (R01529) -- (c199);
\draw[edge] (c4c) -- (R01768);
\draw[edge] (c80d) -- (R01768);
\draw[edge] (c385) -- (R01768);
\draw[edge] (R01768.west) .. controls (880,3255) and (810,3290) .. ($(c262.north east)+(-20,0)$);
\draw[edge] (R01768) -- (c3c);
\draw[edge] (R01768.east) .. controls (1090,3250) and (1160,3300) .. ($(c1e.north)+(-13,0)$);
\draw[edge] (c199) -- (R01056);
\draw[edge] (R01056) -- (c117);
\draw[edge] (c14b) -- (R01244);
\draw[edge] (c262) -- (R01244);
\draw[edge] (R01244) -- (c1f);
\draw[edge] (R01244) -- (c147);
\draw[edge] (c117) -- (R00182);
\draw[edge] (c147) -- (R00182);
\draw[edge] (c147) -- (R00190);
\draw[edge] (c119) -- (R00190);
\draw[edge] (R00182) -- (c1g);
\draw[edge] (R00182) -- (c20);
\draw[edge] (R00190) -- (c20);
\draw[edge] (R00190.east) .. controls (1000,3808) and (1130,3840) .. (c13b.north west);
\draw[edge] (c20) -- (R04863);
\draw[edge] (c5535) -- (R04863);
\draw[edge] (R04863.south west) .. controls (880,4100) and (845,4130) .. ($(c11482.north)+(22,0)$);
\draw[edge] (R04863) -- (c5560);
\draw[edge] (c5560) -- (R03098);
\draw[edge] ($(c13b.south)+(8,0)$) .. controls (1278,4120) and (1265,4230) .. (R03098.north east);
\draw[edge] (R03098) -- (c2c);
\draw[edge] (R03098) -- (c956);
\end{tikzpicture}
\end{document}
